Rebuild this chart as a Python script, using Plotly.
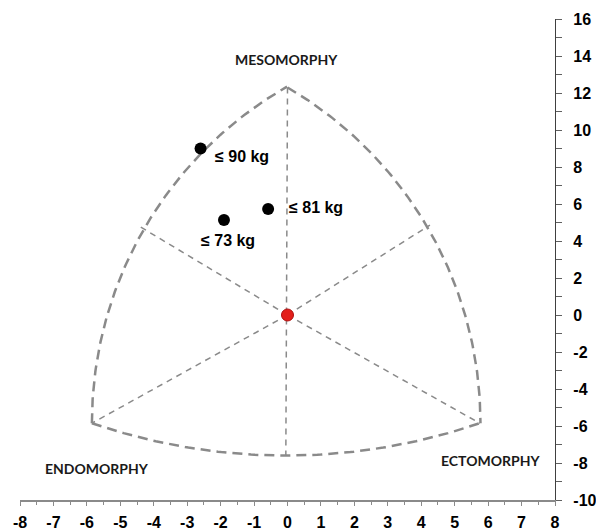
import numpy as np
import plotly.graph_objects as go

# Somatotype means by weight category
groups = ["≤ 90 kg", "≤ 81 kg", "≤ 73 kg"]
group_x = [-2.6, -0.58, -1.9]
group_y = [9.0, 5.73, 5.14]

# Reference centre of the somatochart
centre_x = [0.0]
centre_y = [0.0]

# Somatochart frame vertices (endomorphy, ectomorphy, mesomorphy corners)
endo_corner = (-5.85, -5.85)
ecto_corner = (5.75, -5.85)
meso_corner = (0.0, 12.3)
bottom_mid_y = -7.6
upper_left_end = (-4.49, 4.86)
upper_right_end = (4.26, 4.86)

x_ticks = list(range(-8, 9))
y_ticks = list(range(-10, 17, 2))

W, H = 596, 531
M = dict(l=20, r=41, t=19, b=31)
x_range = [-8, 8]
y_range = [-10, 16]
sx = (W - M["l"] - M["r"]) / (x_range[1] - x_range[0])
sy = (H - M["t"] - M["b"]) / (y_range[1] - y_range[0])


def arc(center, p0, p1, n=120):
    """Circular arc (circular on screen) around center from p0 to p1."""
    cx, cy = center[0] * sx, center[1] * sy
    a0 = np.arctan2(p0[1] * sy - cy, p0[0] * sx - cx)
    a1 = np.arctan2(p1[1] * sy - cy, p1[0] * sx - cx)
    r = np.hypot(p0[0] * sx - cx, p0[1] * sy - cy)
    t = np.linspace(a0, a1, n)
    return (cx + r * np.cos(t)) / sx, (cy + r * np.sin(t)) / sy


# bottom arc: circle through both lower corners and the lowest point
ex, ey = endo_corner[0] * sx, endo_corner[1] * sy
mx = (endo_corner[0] + ecto_corner[0]) / 2 * sx
by = bottom_mid_y * sy
# centre (mx, c): (ex-mx)^2 + (ey-c)^2 = (by-c)^2
c = ((ex - mx) ** 2 + ey ** 2 - by ** 2) / (2 * (ey - by))
bottom_center = (mx / sx, c / sy)
bottom_low = (mx / sx, bottom_mid_y)

frame_color = "#8a8a8a"
fig = go.Figure()

outer = [
    arc(ecto_corner, endo_corner, meso_corner),
    arc(endo_corner, meso_corner, ecto_corner),
    arc(bottom_center, endo_corner, ecto_corner),
]
for ax_, ay_ in outer:
    fig.add_trace(go.Scatter(x=ax_, y=ay_, mode="lines", hoverinfo="skip",
                             line=dict(color=frame_color, width=2.5, dash="10px,6px"),
                             showlegend=False))

inner = [
    ([meso_corner[0], bottom_low[0]], [meso_corner[1], bottom_low[1]]),
    ([0, endo_corner[0]], [0, endo_corner[1]]),
    ([0, ecto_corner[0]], [0, ecto_corner[1]]),
    ([0, upper_left_end[0]], [0, upper_left_end[1]]),
    ([0, upper_right_end[0]], [0, upper_right_end[1]]),
]
for lx, ly in inner:
    fig.add_trace(go.Scatter(x=lx, y=ly, mode="lines", hoverinfo="skip",
                             line=dict(color=frame_color, width=1.5, dash="6px,5px"),
                             showlegend=False))

fig.add_trace(go.Scatter(x=centre_x, y=centre_y, mode="markers", showlegend=False,
                         marker=dict(size=12, color="#e3201b",
                                     line=dict(color="#b01010", width=1))))

fig.add_trace(go.Scatter(x=group_x, y=group_y, mode="markers", showlegend=False,
                         text=groups,
                         marker=dict(size=12, color="black")))

label_font = dict(family="Liberation Sans, Arial", size=16, color="black", weight="bold")
shifts = {"≤ 90 kg": (12, -8, "left"), "≤ 81 kg": (19, 2, "left"), "≤ 73 kg": (4, -21, "center")}
for g, gx, gy in zip(groups, group_x, group_y):
    dx, dy, anchor = shifts[g]
    fig.add_annotation(x=gx, y=gy, text=g, showarrow=False,
                       xanchor=anchor, yanchor="middle", xshift=dx, yshift=dy,
                       font=label_font)

cat_font = dict(family="Lato, Open Sans", size=14, color="#1a1a1a", weight="bold")
for txt, tx, ty in [("MESOMORPHY", -0.04, 13.8), ("ENDOMORPHY", -5.7, -8.27),
                    ("ECTOMORPHY", 6.06, -7.89)]:
    fig.add_annotation(x=tx, y=ty, text=txt, showarrow=False,
                       xanchor="center", yanchor="middle", font=cat_font)

tick_font = dict(family="Liberation Sans, Arial", size=16, color="black", weight="bold")
fig.update_layout(
    width=W, height=H, margin=M,
    plot_bgcolor="white", paper_bgcolor="white",
    xaxis=dict(range=x_range, tickvals=x_ticks,
               ticktext=["<b>%d</b>" % v for v in x_ticks],
               showgrid=False, zeroline=False, showline=True,
               linecolor="#8a8a8a", linewidth=2,
               ticks="outside", ticklen=4, tickcolor="#8a8a8a", tickwidth=1,
               minor=dict(dtick=0.5, tick0=0, ticks="outside", ticklen=3,
                          tickcolor="#8a8a8a", showgrid=False),
               tickfont=tick_font, ticklabelstandoff=3, automargin=False,
               fixedrange=True),
    yaxis=dict(range=y_range, side="right", tickvals=y_ticks,
               ticktext=["<b>%d</b>" % v for v in y_ticks],
               showgrid=False, zeroline=False, showline=True,
               linecolor="#404040", linewidth=1.2,
               ticks="outside", ticklen=6, tickcolor="#606060", tickwidth=1,
               minor=dict(dtick=1, tick0=0, ticks="outside", ticklen=6,
                          tickcolor="#606060", showgrid=False),
               tickfont=tick_font, ticklabelstandoff=8, automargin=False,
               fixedrange=True),
)

fig.write_html("out.html")
